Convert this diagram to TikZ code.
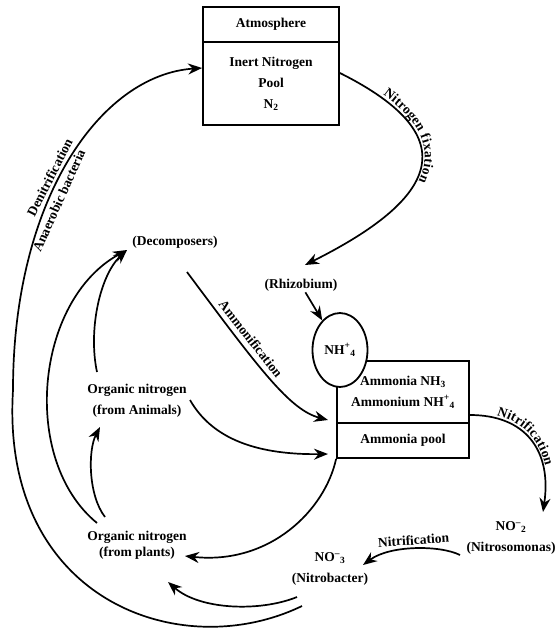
\documentclass[tikz,border=0pt]{standalone}
\usepackage{fontspec}
\setmainfont{Liberation Serif}
\usetikzlibrary{arrows.meta, shapes.geometric, decorations.text}

\begin{document}
\begin{tikzpicture}[
		x=1pt, y=-1pt,
		every node/.style={font=\fontsize{13.5}{21}\selectfont\bfseries, align=center, inner sep=1pt},
		arrow/.style={-{Stealth[length=14pt, width=11pt]}, line width=1.7pt},
		box/.style={draw, line width=1.8pt, minimum width=136pt},
		tag/.style={font=\fontsize{13.5}{15}\selectfont\bfseries, sloped},
		pathtext/.style n args={2}{postaction={decorate, decoration={text along path, raise=3pt,
				text align={left indent=#2}, text={|\fontsize{13.5}{15}\selectfont\bfseries|#1}}}}
		]
		\useasboundingbox (0,0) rectangle (558,638);
		
		% Boxes
		\node[box, minimum height=35pt] (atm) at (271,24.5) {Atmosphere};
		\node[box, minimum height=83pt] (inert) at (271,83.5) {Inert Nitrogen\\Pool\\N\textsubscript{2}};
		\node[box, minimum width=132pt, minimum height=62pt] (amm) at (403,392) {Ammonia NH\textsubscript{3}\\Ammonium NH\textsuperscript{+}\textsubscript{4}};
		\node[box, minimum width=132pt, minimum height=35pt] (ammpool) at (403,440.5) {Ammonia pool};
		\node[draw, ellipse, line width=1.8pt, fill=white, minimum width=55pt, minimum height=74pt, inner sep=0pt] (nh4) at (340,350) {NH\textsuperscript{+}\textsubscript{4}};
		
		% Labels
		\node (decomp) at (175,242) {(Decomposers)};
		\node (rhizo) at (301,285) {(Rhizobium)};
		\node (animals) at (137,401) {Organic nitrogen\\(from Animals)};
		\node[font=\fontsize{13.5}{16}\selectfont\bfseries] (plants) at (137,545) {Organic nitrogen\\(from plants)};
		\node (nitroso) at (511,538) {NO\textsuperscript{--}\textsubscript{2}\\(Nitrosomonas)};
		\node (nitrob) at (330,569) {NO\textsuperscript{--}\textsubscript{3}\\(Nitrobacter)};
		
		% Connector ends
		\coordinate (nb1) at (297,597);
		\coordinate (nb2) at (302,606);
		\coordinate (rhizoin) at (305,265);
		\coordinate (decompout) at (187,272);
		\coordinate (decompin) at (127,250);
		\coordinate (ammin) at (328,420);
		\coordinate (poolin) at (328,454);
		\coordinate (animout) at (190,400);
		\coordinate (animtop) at (97,372);
		\coordinate (animin) at (100,427);
		\coordinate (plantsin) at (185,556);
		\coordinate (plantsin2) at (168,582);
		\coordinate (plantstop) at (97,523);
		\coordinate (plantstop2) at (105,517);
		\coordinate (ammout) at (470,415);
		\coordinate (nitrosoin) at (543,512);
		\coordinate (nitrosoout) at (460,555);
		\coordinate (nitrobin) at (363,565);
		
		% Nitrogen fixation
		\draw[arrow, pathtext={Nitrogen fixation}{48pt}] ([yshift=10.5pt]inert.east) .. controls (470,138) and (435,200) .. (rhizoin);
		\draw[arrow] (rhizo) -- (nh4);
		
		% Denitrification
		\draw[arrow] (nb2) .. controls (180,665) and (0,600) .. (13,390)
			.. controls (13,200) and (100,75) .. ([yshift=15.5pt]inert.west)
			node[tag, pos=.44, above=2pt] {Denitrification}
			node[tag, pos=.40, below=3pt] {Anaerobic bacteria};
		
		% Ammonification
		\draw[arrow] (decompout) .. controls (260,370) and (290,410) .. (ammin)
			node[tag, pos=.30, above=4pt] {Ammonification};
		\draw[arrow] (animout) .. controls (210,435) and (250,455) .. (poolin);
		
		% Organic nitrogen
		\draw[arrow] (animtop) .. controls (88,330) and (100,275) .. (decompin);
		\draw[arrow] (plantstop) .. controls (20,460) and (35,300) .. (decompin);
		\draw[arrow] (plantstop2) .. controls (88,495) and (88,450) .. (animin);
		\draw[arrow] (ammpool.south west) .. controls (325,510) and (270,565) .. (plantsin);
		\draw[arrow] (nb1) .. controls (260,612) and (200,610) .. (plantsin2);
		
		% Nitrification
		\draw[arrow, pathtext={Nitrification}{26pt}] (ammout) .. controls (525,415) and (552,450) .. (nitrosoin);
		\draw[arrow] (nitrosoout) .. controls (440,545) and (390,545) .. (nitrobin)
			node[tag, pos=.5, above=2pt] {Nitrification};
		
	\end{tikzpicture}
\end{document}
